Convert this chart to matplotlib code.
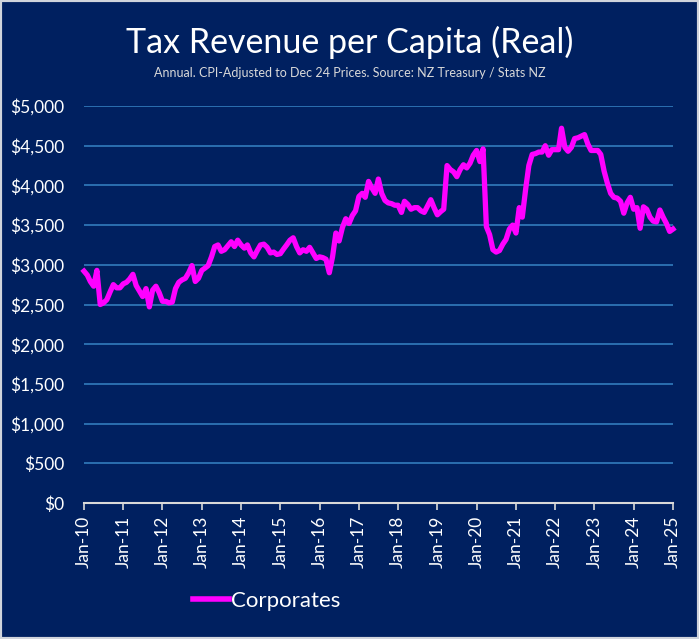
import matplotlib
matplotlib.use("Agg")
import matplotlib.pyplot as plt
import matplotlib.dates as mdates
from matplotlib.patches import Rectangle
from matplotlib.ticker import FuncFormatter
import pandas as pd

# Corporate tax revenue per capita, real (Dec-24 $), monthly from Jan-10
corporates = [
    2920, 2870, 2790, 2730, 2930, 2500, 2520, 2560, 2660, 2750, 2710, 2710,  # 2010
    2760, 2780, 2820, 2880, 2740, 2670, 2600, 2700, 2470, 2680, 2730, 2650,  # 2011
    2540, 2540, 2520, 2530, 2700, 2780, 2810, 2830, 2900, 2990, 2790, 2830,  # 2012
    2930, 2960, 2990, 3100, 3230, 3250, 3170, 3190, 3240, 3290, 3230, 3310,  # 2013
    3250, 3210, 3250, 3150, 3100, 3180, 3250, 3260, 3220, 3150, 3160, 3130,  # 2014
    3140, 3200, 3250, 3310, 3340, 3230, 3150, 3190, 3170, 3220, 3150, 3080,  # 2015
    3100, 3090, 3070, 2900, 3100, 3400, 3300, 3470, 3580, 3520, 3620, 3680,  # 2016
    3860, 3900, 3850, 4050, 3970, 3900, 4080, 3900, 3810, 3780, 3770, 3750,  # 2017
    3750, 3660, 3800, 3760, 3700, 3720, 3720, 3680, 3660, 3740, 3820, 3720,  # 2018
    3630, 3670, 3700, 4250, 4200, 4170, 4110, 4200, 4260, 4220, 4280, 4380,  # 2019
    4440, 4300, 4460, 3480, 3380, 3190, 3160, 3180, 3260, 3320, 3450, 3500,  # 2020
    3400, 3720, 3600, 3950, 4250, 4390, 4400, 4420, 4420, 4500, 4380, 4450,  # 2021
    4450, 4450, 4720, 4480, 4430, 4480, 4590, 4600, 4620, 4640, 4520, 4440,  # 2022
    4440, 4440, 4390, 4180, 4030, 3900, 3850, 3840, 3800, 3650, 3780, 3850,  # 2023
    3700, 3720, 3460, 3730, 3700, 3600, 3550, 3540, 3690, 3600, 3520, 3420,  # 2024
    3450,                                                                    # 2025
]
months = pd.date_range("2010-01-01", periods=len(corporates), freq="MS")
tick_years = list(range(2010, 2026))

title = "Tax Revenue per Capita (Real)"
subtitle = "Annual. CPI-Adjusted to Dec 24 Prices. Source: NZ Treasury / Stats NZ"

bg = "#002060"
grid_col = "#2e75b6"
line_col = "#ff00ff"

plt.rcParams["font.family"] = ["Lato", "DejaVu Sans"]

fig = plt.figure(figsize=(6.99, 6.39), dpi=100)
fig.patch.set_facecolor(bg)
fig.patches.append(Rectangle((0, 0), 1, 1, transform=fig.transFigure,
                             fill=False, edgecolor="#d0d4dc", linewidth=3))

W, H = 699, 639
ax = fig.add_axes([84 / W, (H - 503) / H, 589 / W, 397 / H])
ax.set_facecolor(bg)

ax.plot(months, corporates, color=line_col, linewidth=3.8,
        solid_joinstyle="round", label="Corporates", clip_on=False)

ax.set_ylim(0, 5000)
ax.set_yticks(range(0, 5001, 500))
ax.yaxis.set_major_formatter(FuncFormatter(lambda v, p: "${:,.0f}".format(v)))
ax.set_xlim(pd.Timestamp("2010-01-01"), pd.Timestamp("2025-01-01"))
ax.set_xticks([pd.Timestamp(f"{y}-01-01") for y in tick_years])
ax.xaxis.set_major_formatter(mdates.DateFormatter("%b-%y"))

ax.grid(axis="y", color=grid_col, linewidth=1.3)
ax.set_axisbelow(True)
for s in ["top", "right", "left"]:
    ax.spines[s].set_visible(False)
ax.spines["bottom"].set_color("#d9d9d9")
ax.spines["bottom"].set_linewidth(1.5)

ax.tick_params(axis="y", length=0, pad=14, labelcolor="white", labelsize=12.5)
ax.tick_params(axis="x", direction="out", length=5, width=1.2, color="#d9d9d9",
               labelcolor="white", labelsize=12.5, labelrotation=90, pad=4)

fig.text(0.5, 1 - 42 / H, title, ha="center", va="center",
         color="white", fontsize=24.5)
fig.text(0.5, 1 - 73 / H, subtitle, ha="center", va="center",
         color="#d9d9d9", fontsize=9)

leg = fig.legend(loc="center", bbox_to_anchor=(267 / W, 1 - 601 / H), frameon=False,
                 fontsize=16, handlelength=1.6, handletextpad=0.1)
for t in leg.get_texts():
    t.set_color("white")
for h in leg.get_lines():
    h.set_linewidth(4)

fig.savefig("out.png", dpi=100, facecolor=bg)
